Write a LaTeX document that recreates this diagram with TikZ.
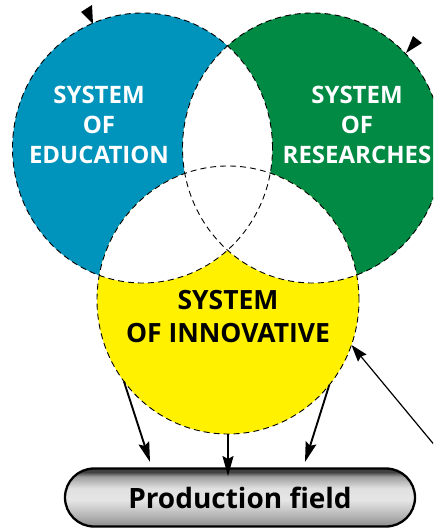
\documentclass[tikz,border=0pt]{standalone}
\usepackage{fontspec}
\setmainfont{Open Sans}
\usetikzlibrary{arrows.meta,shapes.misc,shapes.geometric}
\definecolor{edublue}{RGB}{0,148,189}
\definecolor{resgreen}{RGB}{0,138,68}
\definecolor{innyellow}{RGB}{255,241,0}
\pgfdeclareverticalshading{pillshade}{100bp}{color(0bp)=(black!45); color(25bp)=(black!45); color(35bp)=(black!28); color(48bp)=(black!10); color(58bp)=(black!12); color(68bp)=(black!38); color(72bp)=(black!75); color(75bp)=(black!75); color(100bp)=(black!75)}
\tikzset{
  ring/.style={ellipse, draw=black, dash pattern=on 6pt off 4pt, line width=0.9pt, inner sep=0pt, outer sep=0pt, minimum width=260pt, minimum height=270pt},
  label/.style={align=center, font=\bfseries\fontsize{24}{30}\selectfont},
  arr/.style={-{Stealth[length=20pt,width=11pt,inset=3pt]}, line width=1.9pt},
  thinarr/.style={-{Stealth[length=17pt,width=11pt,inset=2pt]}, line width=1.2pt},
  pill/.style={rounded rectangle, draw=black, line width=2.3pt, shading=pillshade, minimum width=350pt, minimum height=58pt, inner sep=0pt, font=\bfseries\fontsize{28}{34}\selectfont},
  tick/.style={fill=black}
}
\begin{document}
\begin{tikzpicture}[x=1pt,y=-1pt]
\useasboundingbox (0,0) rectangle (433,529);
\begin{scope}
\clip (0,0) rectangle (433,529);
% coloured fills
\fill[edublue] (142.5,148) ellipse [x radius=130pt, y radius=135pt];
\fill[resgreen] (312.5,148) ellipse [x radius=130pt, y radius=135pt];
\fill[innyellow] (228,300) ellipse [x radius=131pt, y radius=134pt];
% white overlaps
\begin{scope}
  \clip (142.5,148) ellipse [x radius=130pt, y radius=135pt];
  \fill[white] (312.5,148) ellipse [x radius=130pt, y radius=135pt];
  \fill[white] (228,300) ellipse [x radius=131pt, y radius=134pt];
\end{scope}
\begin{scope}
  \clip (312.5,148) ellipse [x radius=130pt, y radius=135pt];
  \fill[white] (228,300) ellipse [x radius=131pt, y radius=134pt];
\end{scope}
% dashed outlines
\node[ring] (edu) at (142.5,148) {};
\node[ring] (res) at (312.5,148) {};
\node[ring, minimum width=262pt, minimum height=268pt] (inn) at (228,300) {};
% small markers
\fill[tick] (81,12) -- (92,5) -- (93,24) -- cycle;
\fill[tick] (413,36) -- (422,43) -- (406,53) -- cycle;
% labels
\node[label, text=white] (edut) at (99,125) {SYSTEM\\OF\\EDUCATION};
\node[label, text=white] (rest) at (357,125) {SYSTEM\\OF\\RESEARCHES};
\node[label, text=black, font=\bfseries\fontsize{26.5}{33}\selectfont] (innt) at (228,317) {SYSTEM\\OF INNOVATIVE};
% production field
\node[pill] (pf) at (240,497.5) {Production field};
\coordinate (l1) at (150,462);
\coordinate (m1) at (228,476);
\coordinate (r1) at (305,462);
\coordinate (far) at (441,453);
\draw[arr] (inn.218) -- (l1);
\draw[arr] (inn.south) -- (m1);
\draw[arr] (inn.320) -- (r1);
\draw[thinarr] (far) -- (inn.340);
\end{scope}
\end{tikzpicture}
\end{document}
